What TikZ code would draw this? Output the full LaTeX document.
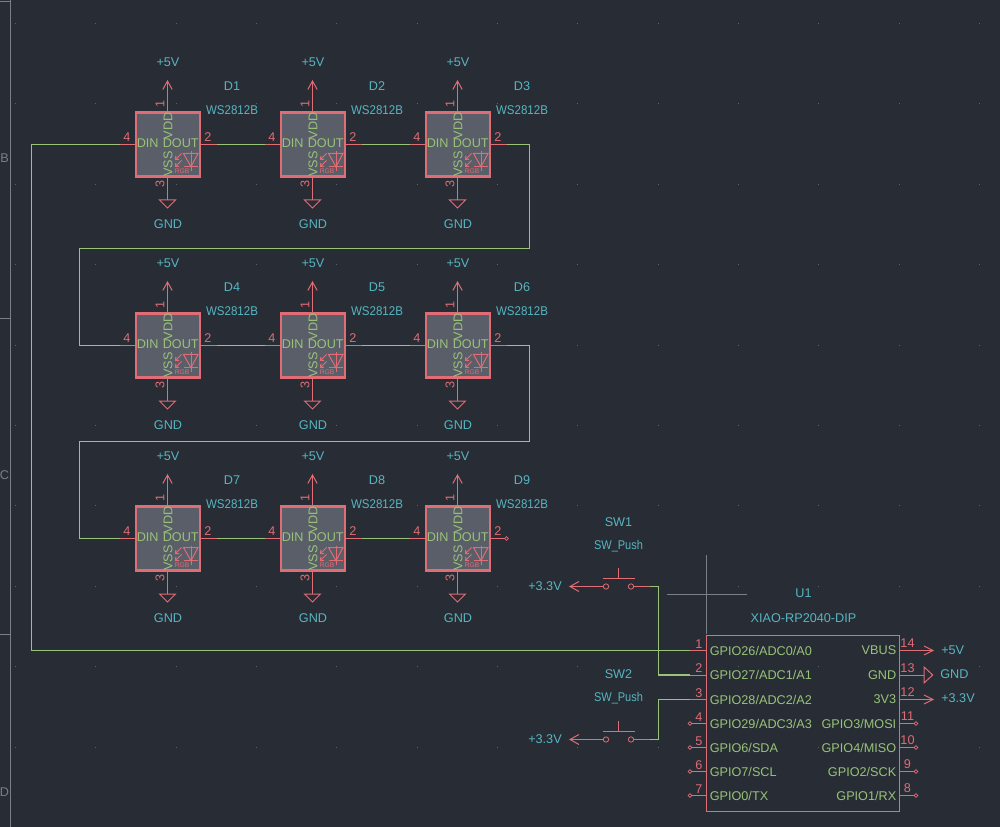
\documentclass[tikz,border=0pt]{standalone}
\usepackage{fontspec}
\setmainfont{Liberation Sans}
\definecolor{bgc}{HTML}{282C34}
\definecolor{symred}{HTML}{E06C75}
\definecolor{wirec}{HTML}{98C379}
\definecolor{labc}{HTML}{56B6C2}
\definecolor{frame}{HTML}{7A7E88}
\definecolor{griddot}{HTML}{5C6370}
\definecolor{boxfill}{HTML}{5A5E68}
\tikzset{
  symbox/.style={draw=symred,line width=1.6pt,fill=boxfill},
  pinline/.style={draw=symred,line width=0.75pt},
  wire/.style={draw=wirec,line width=0.8pt},
  txt/.style={inner sep=0pt,font=\fontsize{9.5pt}{10pt}\selectfont},
  reflab/.style={txt,text=labc},
  narrowlab/.style={txt,text=labc,xscale=0.91,transform shape},
  pushlab/.style={txt,text=labc,xscale=0.87,transform shape},
  pinnum/.style={txt,text=symred},
  pinname/.style={txt,text=wirec},
  framelab/.style={txt,text=frame},
  frameline/.style={draw=frame,line width=0.75pt},
  opencirc/.style={draw=symred,line width=0.6pt,fill=bgc}
}
% name, centre x, centre y, D-number, x offset of value label
\newcommand{\ledsym}[5]{%
\begin{scope}[shift={(#2,#3)}]
  \coordinate (#1L) at (-48,0);
  \coordinate (#1R) at (49,0);
  \coordinate (#1T) at (0,-63.5);
  \coordinate (#1B) at (0,55.5);
  \draw[pinline] (#1L) -- (-32,0);
  \draw[pinline] (33,0) -- (#1R);
  \draw[pinline] (#1T) -- (0,-32);
  \draw[pinline] (0,33) -- (#1B);
  \draw[pinline] (-4.7,-55) -- (#1T) -- (4.7,-55);
  \draw[pinline] (-8,55.5) -- (8,55.5) -- (0,63.5) -- cycle;
  \node[symbox,minimum width=48pt,minimum height=48pt,inner sep=0pt] (#1) at (0.3,0) {};
  \node[pinname,anchor=west] (#1din) at (-31,-1) {DIN};
  \node[pinname,anchor=east] (#1dout) at (31.5,-1) {DOUT};
  \node[pinname,rotate=90] (#1vdd) at (0.5,-18.5) {VDD};
  \node[pinname,rotate=90] (#1vss) at (0.5,19.5) {VSS};
  \node[pinnum] (#1n4) at (-40.5,-7.5) {4};
  \node[pinnum] (#1n2) at (40.5,-7.5) {2};
  \node[pinnum,rotate=90] (#1n1) at (-7.5,-40.5) {1};
  \node[pinnum,rotate=90] (#1n3) at (-7.5,39.5) {3};
  \node[reflab] (#1p) at (0.5,-82) {+5V};
  \node[reflab] (#1g) at (0.5,79.5) {GND};
  \node[reflab] (#1ref) at (64.5,-58.5) {#4};
  \node[narrowlab] (#1val) at (#5,-34.5) {WS2812B};
  % LED glyph
  \draw[pinline] (16,9) -- (30.5,9) -- (23.5,22.2) -- cycle;
  \draw[pinline] (16,22.2) -- (30.5,22.2);
  \draw[pinline] (23.5,7) -- (23.5,26.5);
  \draw[pinline] (14,9) -- (8,15) (8.3,11.5) -- (8,15) -- (11.5,15);
  \draw[pinline] (14,16) -- (8,22) (8.3,18.5) -- (8,22) -- (11.5,22);
  \node[txt,text=symred,font=\fontsize{5pt}{6pt}\selectfont] (#1rgb) at (14.5,27) {RGB};
\end{scope}}
\begin{document}
\begin{tikzpicture}[x=0.75pt,y=-0.75pt]
\useasboundingbox (0,0) rectangle (1000,827);
\fill[bgc] (0,0) rectangle (1000,827);
% grid dots
\foreach \i in {0,...,12} \foreach \j in {0,...,9}
  \fill[griddot] ({15+80.33*\i},{23+80.4*\j}) rectangle +(1,1);
% frame
\coordinate (frameT) at (10.5,0);
\coordinate (frameB) at (10.5,827);
\draw[frameline] (frameT) -- (frameB);
\draw[frameline] (0,1.5) -- (10.5,1.5) (0,318.5) -- (10.5,318.5) (0,634.5) -- (10.5,634.5);
\node[framelab] (fB) at (4.5,158) {B};
\node[framelab] (fC) at (4.5,475) {C};
\node[framelab] (fD) at (4.5,792) {D};
% cross hair
\coordinate (chT) at (706.5,555);
\coordinate (chL) at (667,594.5);
\draw[frameline] (chT) -- (706.5,634);
\draw[frameline] (chL) -- (747,594.5);

\ledsym{d1}{167.5}{144.5}{D1}{64.5}
\ledsym{d2}{312.5}{144.5}{D2}{64.5}
\ledsym{d3}{457.5}{144.5}{D3}{64.5}
\ledsym{d4}{167.5}{345.5}{D4}{64.5}
\ledsym{d5}{312.5}{345.5}{D5}{64.5}
\ledsym{d6}{457.5}{345.5}{D6}{64.5}
\ledsym{d7}{167.5}{538.5}{D7}{64.5}
\ledsym{d8}{312.5}{538.5}{D8}{64.5}
\ledsym{d9}{457.5}{538.5}{D9}{64.5}
\draw[opencirc] (d9R) circle (1.4pt);

% U1
\node[draw=symred,line width=0.75pt,minimum width=144.8pt,minimum height=132.5pt,inner sep=0pt,anchor=north west] (u1) at (706.3,634.7) {};
\node[reflab] (u1ref) at (803.5,593) {U1};
\node[reflab] (u1val) at (803.5,618) {XIAO-RP2040-DIP};
\foreach \n/\y/\t in {1/650.5/GPIO26\slash ADC0\slash A0,2/675/GPIO27\slash ADC1\slash A1,3/699.5/GPIO28\slash ADC2\slash A2,4/723.5/GPIO29\slash ADC3\slash A3,5/747.5/GPIO6\slash SDA,6/771.5/GPIO7\slash SCL,7/795.5/GPIO0\slash TX}{
  \coordinate (uL\n) at (690,\y);
  \draw[pinline] (uL\n) -- (706,\y);
  \node[pinname,anchor=west] (uLn\n) at (709.5,\y) {\t};
  \node[pinnum] (uLk\n) at (699,{\y-6.5}) {\n};
}
\foreach \n/\y/\t in {14/650.5/VBUS,13/675/GND,12/699.5/3V3,11/723.5/GPIO3\slash MOSI,10/747.5/GPIO4\slash MISO,9/771.5/GPIO2\slash SCK,8/795.5/GPIO1\slash RX}{
  \coordinate (uR\n) at (916,\y);
  \draw[pinline] (899.5,\y) -- (uR\n);
  \node[pinname,anchor=east] (uRn\n) at (896.5,\y) {\t};
  \node[pinnum] (uRk\n) at (907.5,{\y-7}) {\n};
}
\foreach \n in {4,5,6,7}{\draw[opencirc] (uL\n) circle (1.4pt);}
\foreach \n in {11,10,9,8}{\draw[opencirc] (uR\n) circle (1.4pt);}
% U1 power symbols
\coordinate (p5tip) at (933,650.5);
\coordinate (p3tip) at (933,699.5);
\coordinate (pgnd) at (924,675);
\draw[pinline] (uR14) -- (p5tip);
\draw[pinline] (924,646) -- (p5tip) -- (924,655);
\draw[pinline] (uR12) -- (p3tip);
\draw[pinline] (924,695) -- (p3tip) -- (924,704);
\draw[pinline] (uR13) -- (pgnd);
\draw[pinline] (924,667) -- (932.7,675) -- (924,683) -- cycle;
\node[reflab,anchor=west] (l5) at (941,650) {+5V};
\node[reflab,anchor=west] (lg) at (940,674.5) {GND};
\node[reflab,anchor=west] (l3) at (941,698.5) {+3.3V};

% switches
\newcommand{\swsym}[5]{%
\begin{scope}[shift={(618.5,#2)}]
  \coordinate (#1tip) at (-48.5,0);
  \coordinate (#1A) at (-16,0);
  \coordinate (#1B) at (16,0);
  \coordinate (#1W) at (31.5,0);
  \draw[pinline] (#1tip) -- (-15,0);
  \draw[pinline] (-39.5,-5) -- (#1tip) -- (-39.5,5);
  \draw[pinline] (13,0) -- (#1W);
  \draw[opencirc] (-12.5,0) circle (2pt);
  \draw[opencirc] (12.5,0) circle (2pt);
  \draw[pinline] (-16,-8) -- (16,-8) (0,-8) -- (0,-19);
  \node[reflab] (#1ref) at (0,#3) {#4};
  \node[pushlab] (#1val) at (0,#5) {SW\_Push};
  \node[reflab,anchor=east] (#1pw) at (-56.5,-0.5) {+3.3V};
\end{scope}}
\swsym{swa}{586.5}{-64.5}{SW1}{-40}
\swsym{swb}{739.5}{-65.5}{SW2}{-41}

% wires
\draw[wire] (d1R) -- (d2L);
\draw[wire] (d2R) -- (d3L);
\draw[wire] (d4R) -- (d5L);
\draw[wire] (d5R) -- (d6L);
\draw[wire] (d7R) -- (d8L);
\draw[wire] (d8R) -- (d9L);
\draw[wire] (d3R) -- (529.5,144.5) -- (529.5,248.5) -- (79.5,248.5) -- (79.5,345.5) -- (d4L);
\draw[wire] (d6R) -- (529.5,345.5) -- (529.5,441.5) -- (79.5,441.5) -- (79.5,538.5) -- (d7L);
\draw[wire] (d1L) -- (31.5,144.5) -- (31.5,650.5) -- (uL1);
\draw[wire] (swaW) -- (658.5,586.5) -- (658.5,675) -- (uL2);
\draw[wire] (swbW) -- (658.5,739.5) -- (658.5,699.5) -- (uL3);
\end{tikzpicture}
\end{document}
